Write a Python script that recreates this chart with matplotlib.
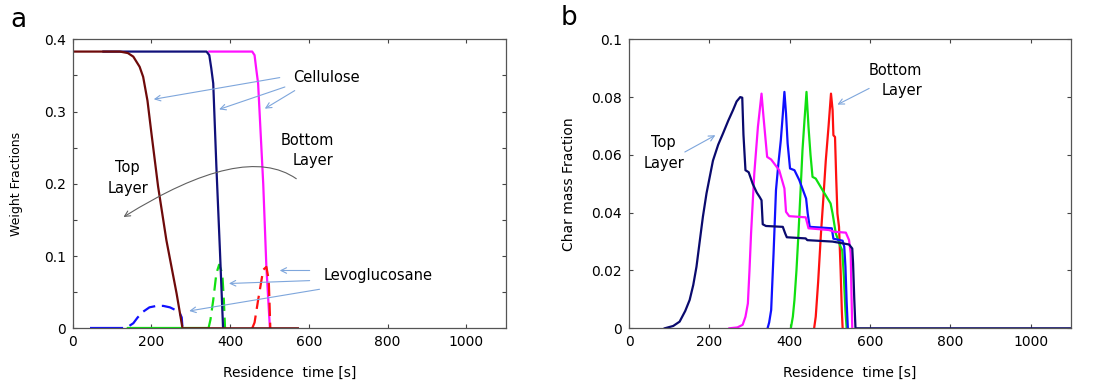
import numpy as np
import matplotlib
matplotlib.use("Agg")
import matplotlib.pyplot as plt
from matplotlib.ticker import MultipleLocator

plt.rcParams['font.family'] = ['DejaVu Sans']

# ---------------- Panel a: cellulose and levoglucosan weight fractions ----------------
cell_top_t = [0, 120, 140, 154, 170, 179, 190, 200, 217, 238, 264, 279, 572]
cell_top_v = [0.383, 0.383, 0.381, 0.376, 0.362, 0.348, 0.315, 0.27, 0.196, 0.122, 0.048, 0.0, 0.0]

cell_mid_t = [78, 340, 347, 352, 357, 365, 374, 382]
cell_mid_v = [0.383, 0.383, 0.378, 0.36, 0.339, 0.224, 0.108, 0.0]

cell_bot_t = [347, 456, 462, 466, 471, 484, 492, 501]
cell_bot_v = [0.383, 0.383, 0.378, 0.36, 0.339, 0.2, 0.085, 0.0]

levo_top_t = [44, 128, 140, 154, 165, 179, 195, 213, 230, 247, 262, 272, 277, 279]
levo_top_v = [0.0, 0.0, 0.002, 0.007, 0.015, 0.023, 0.029, 0.031, 0.031, 0.029, 0.025, 0.021, 0.015, 0.0]

levo_mid_t = [137, 345, 350, 357, 365, 372, 380, 384, 387]
levo_mid_v = [0.0, 0.0, 0.012, 0.039, 0.076, 0.088, 0.076, 0.039, 0.0]

levo_bot_t = [456, 462, 471, 484, 492, 498, 500, 502]
levo_bot_v = [0.0, 0.008, 0.039, 0.081, 0.085, 0.067, 0.035, 0.0]

weight_ticks = [0.0, 0.1, 0.2, 0.3, 0.4]
weight_labels = ['0', '0.1', '0.2', '0.3', '0.4']

# ---------------- Panel b: char mass fraction per layer ----------------
char1_t = [89, 110, 126, 140, 151, 160, 168, 176, 184, 193, 209, 222, 234, 247, 259, 268, 277, 282,
           285, 290, 298, 308, 318, 325, 330, 333, 341, 383, 389, 393, 440, 444, 507, 548, 556, 558, 561, 564, 1100]
char1_v = [0.0, 0.0008, 0.0023, 0.006, 0.0098, 0.015, 0.0213, 0.03, 0.0386, 0.0467, 0.058, 0.0635, 0.0674,
           0.0718, 0.0755, 0.0785, 0.080, 0.0798, 0.067, 0.0547, 0.054, 0.050, 0.047, 0.0455, 0.0443, 0.036,
           0.0354, 0.0351, 0.0328, 0.0315, 0.0311, 0.0305, 0.030, 0.029, 0.0276, 0.0225, 0.010, 0.0, 0.0]

char2_t = [250, 270, 283, 290, 296, 300, 304, 312, 321, 330, 335, 344, 354, 374, 387, 391, 399, 440, 447,
           498, 511, 540, 548, 552, 554, 556]
char2_v = [0.0, 0.0003, 0.0012, 0.004, 0.0086, 0.02, 0.033, 0.0536, 0.0697, 0.0812, 0.073, 0.0593, 0.0584,
           0.0547, 0.0484, 0.0403, 0.0388, 0.0384, 0.0346, 0.034, 0.0334, 0.0331, 0.0305, 0.026, 0.012, 0.0]

char3_t = [345, 349, 354, 360, 366, 372, 378, 383, 387, 391, 395, 401, 412, 424, 441, 445, 450, 505, 509,
           532, 536, 539, 542, 545]
char3_v = [0.0, 0.002, 0.0063, 0.026, 0.0478, 0.057, 0.065, 0.074, 0.0818, 0.0743, 0.064, 0.0553, 0.0547,
           0.0513, 0.0449, 0.0397, 0.0351, 0.0346, 0.031, 0.0303, 0.0282, 0.0213, 0.009, 0.0]

char4_t = [403, 408, 412, 417, 422, 427, 432, 437, 442, 447, 452, 457, 465, 482, 502, 507, 515, 527, 531,
           535, 539, 542]
char4_v = [0.0, 0.004, 0.0098, 0.02, 0.0328, 0.047, 0.0616, 0.072, 0.0818, 0.0697, 0.06, 0.0524, 0.0518,
           0.0478, 0.0432, 0.0397, 0.0328, 0.0282, 0.027, 0.018, 0.006, 0.0]

char5_t = [461, 465, 471, 478, 484, 490, 497, 503, 507, 509, 513, 516, 519, 523, 527, 530, 532]
char5_v = [0.0, 0.004, 0.016, 0.0328, 0.045, 0.058, 0.070, 0.0812, 0.0755, 0.0668, 0.0662, 0.052, 0.0397,
           0.0351, 0.02, 0.006, 0.0]

char_ticks = [0.0, 0.02, 0.04, 0.06, 0.08, 0.1]
char_labels = ['0', '0.02', '0.04', '0.06', '0.08', '0.1']

x_ticks = [0, 200, 400, 600, 800, 1000]

fig = plt.figure(figsize=(10.93, 3.86), dpi=100)
ax_a = fig.add_axes([0.0665, 0.1495, 0.3962, 0.7487])
ax_b = fig.add_axes([0.5755, 0.1495, 0.4041, 0.7487])

arrow_blue = dict(arrowstyle='->', color='#7ea6dc', lw=0.8, shrinkA=0, shrinkB=0)


def draw_levo(ax, t, v, color):
    t = np.asarray(t, float)
    v = np.asarray(v, float)
    flat = np.ma.masked_where(v > 0, v)
    ax.plot(t, flat, color=color, lw=1.6, solid_capstyle='butt')
    ax.plot(t, v, color=color, lw=1.6, dashes=(6, 3))


# Panel a curves
draw_levo(ax_a, levo_top_t, levo_top_v, '#1010ff')
draw_levo(ax_a, levo_mid_t, levo_mid_v, '#10e010')
ax_a.plot(cell_bot_t, cell_bot_v, color='#ff10ff', lw=1.6)
ax_a.plot(cell_mid_t, cell_mid_v, color='#10107a', lw=1.6)
draw_levo(ax_a, levo_bot_t, levo_bot_v, '#ff1010')
ax_a.plot(cell_top_t, cell_top_v, color='#6e0a0a', lw=1.6)

ax_a.set_xlim(0, 1100)
ax_a.set_ylim(0, 0.4)
ax_a.set_xticks(x_ticks)
ax_a.set_yticks(weight_ticks, weight_labels)
ax_a.yaxis.set_minor_locator(MultipleLocator(0.05))
ax_a.tick_params(direction='in', top=True, right=True, which='both', labelsize=10, length=3, width=0.8,
                 color='#444444', pad=5)
ax_a.set_xlabel('Residence  time [s]', fontsize=10, labelpad=12)
ax_a.set_ylabel('Weight Fractions', fontsize=9, labelpad=15)

ax_a.text(561, 0.347, 'Cellulose', fontsize=10.5, va='center', ha='left')
for (x0, y0), (x1, y1) in [((526, 0.347), (206, 0.317)),
                           ((539, 0.334), (372, 0.303)),
                           ((564, 0.329), (488, 0.304))]:
    ax_a.annotate('', xy=(x1, y1), xytext=(x0, y0), arrowprops=arrow_blue)

ax_a.text(663, 0.246, 'Bottom\nLayer', fontsize=10.5, ha='right', va='center', linespacing=1.45)
ax_a.text(140, 0.208, 'Top\nLayer', fontsize=10.5, ha='center', va='center', linespacing=1.45)
ax_a.annotate('', xy=(129, 0.154), xytext=(568, 0.207),
              arrowprops=dict(arrowstyle='->', color='#606060', lw=0.8, shrinkA=0, shrinkB=0,
                              connectionstyle='angle3,angleA=145,angleB=32'))

ax_a.text(638, 0.073, 'Levoglucosane', fontsize=10.5, ha='left', va='center')
for (x0, y0), (x1, y1) in [((602, 0.080), (526, 0.080)),
                           ((602, 0.066), (397, 0.062)),
                           ((627, 0.054), (296, 0.024))]:
    ax_a.annotate('', xy=(x1, y1), xytext=(x0, y0), arrowprops=arrow_blue)

# Panel b curves
ax_b.plot(char5_t, char5_v, color='#ff1010', lw=1.6)
ax_b.plot(char4_t, char4_v, color='#10e010', lw=1.6)
ax_b.plot(char3_t, char3_v, color='#1010ff', lw=1.6)
ax_b.plot(char2_t, char2_v, color='#ff10ff', lw=1.6)
ax_b.plot(char1_t, char1_v, color='#0a0a6e', lw=1.6)

ax_b.set_xlim(0, 1100)
ax_b.set_ylim(0, 0.1)
ax_b.set_xticks(x_ticks)
ax_b.set_yticks(char_ticks, char_labels)
ax_b.tick_params(direction='in', top=True, right=True, labelsize=10, length=3, width=0.8,
                 color='#444444', pad=5)
ax_b.set_xlabel('Residence  time [s]', fontsize=10, labelpad=12)
ax_b.set_ylabel('Char mass Fraction', fontsize=10, labelpad=11)

ax_b.text(86, 0.0606, 'Top\nLayer', fontsize=10.5, ha='center', va='center', linespacing=1.45)
ax_b.annotate('', xy=(215, 0.0668), xytext=(139, 0.061), arrowprops=arrow_blue)
ax_b.text(730, 0.0857, 'Bottom\nLayer', fontsize=10.5, ha='right', va='center', linespacing=1.45)
ax_b.annotate('', xy=(519, 0.0774), xytext=(598, 0.083), arrowprops=arrow_blue)

for ax in (ax_a, ax_b):
    for s in ax.spines.values():
        s.set_color('#555555')
        s.set_linewidth(0.9)

fig.text(18 / 1093, 1 - 20 / 386, 'a', fontsize=19, ha='center', va='center')
fig.text(569 / 1093, 1 - 18 / 386, 'b', fontsize=19, ha='center', va='center')

fig.savefig('out.png', dpi=100)
